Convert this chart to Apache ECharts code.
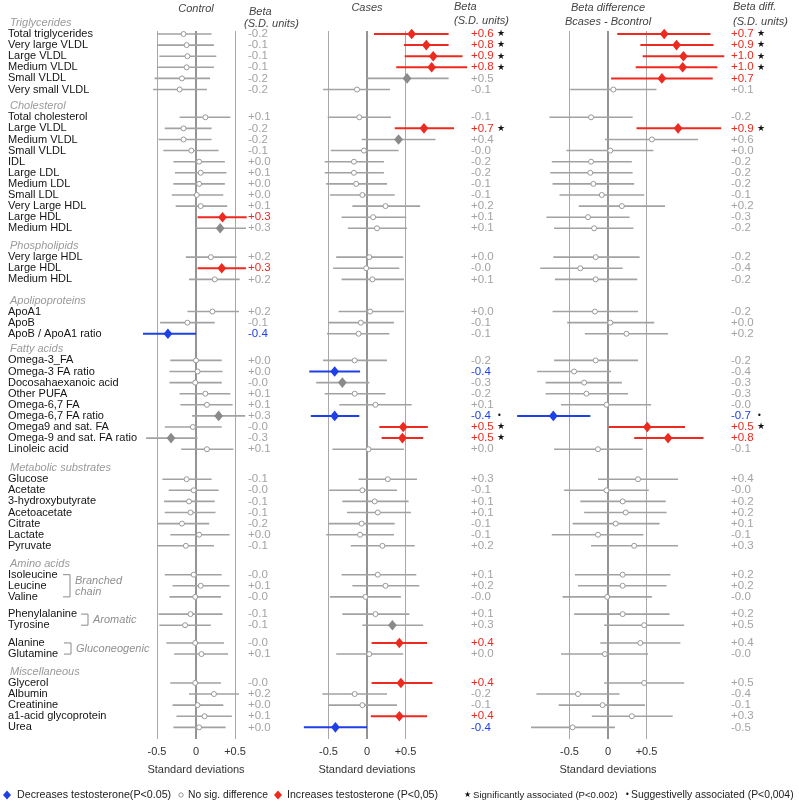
<!DOCTYPE html>
<html><head><meta charset="utf-8">
<script src="https://cdn.jsdelivr.net/npm/echarts@6/dist/echarts.min.js"></script>
<style>html,body{margin:0;padding:0;background:#fff}#c{width:799px;height:804px}</style>
</head><body><div id="c"></div>
<script>
// ---------------- DATA ----------------
const groupNames = ['Triglycerides','Cholesterol','Phospholipids','Apolipoproteins','Fatty acids','Metabolic substrates','Amino acids','Miscellaneous'];
const groupSizes = [6, 11, 3, 3, 9, 7, 7, 5];
const rowLabels = [
  'Total triglycerides','Very large VLDL','Large VLDL','Medium VLDL','Small VLDL','Very small VLDL',
  'Total cholesterol','Large VLDL','Medium VLDL','Small VLDL','IDL','Large LDL','Medium LDL','Small LDL','Very Large HDL','Large HDL','Medium HDL',
  'Very large HDL','Large HDL','Medium HDL',
  'ApoA1','ApoB','ApoB / ApoA1 ratio',
  'Omega-3_FA','Omega-3 FA ratio','Docosahaexanoic acid','Other PUFA','Omega-6,7 FA','Omega-6,7 FA ratio','Omega9 and sat. FA','Omega-9 and sat. FA ratio','Linoleic acid',
  'Glucose','Acetate','3-hydroxybutyrate','Acetoacetate','Citrate','Lactate','Pyruvate',
  'Isoleucine','Leucine','Valine','Phenylalanine','Tyrosine','Alanine','Glutamine',
  'Glycerol','Albumin','Creatinine','a1-acid glycoprotein','Urea'
];
const subgroups = [
  {name: ['Branched', 'chain'], first: 39, last: 41},
  {name: ['Aromatic'], first: 42, last: 43},
  {name: ['Gluconeogenic'], first: 44, last: 45}
];
const xTickLabels = {'-0.5': '-0.5', '0': '0', '0.5': '+0.5'};

// Control: beta, lower CI, upper CI, status (n=no sig, g=grey filled, r=increase, b=decrease)
const controlBeta = [-0.16,-0.12,-0.11,-0.12,-0.18,-0.21,
  0.12,-0.16,-0.16,-0.06,0.04,0.06,0.04,0.01,0.06,0.34,0.31,
  0.19,0.33,0.24,
  0.21,-0.11,-0.36,
  0.00,0.02,-0.01,0.12,0.14,0.29,-0.04,-0.32,0.14,
  -0.12,-0.03,-0.09,-0.07,-0.18,0.04,-0.13,
  -0.03,0.06,-0.01,-0.07,-0.14,-0.01,0.07,
  -0.01,0.23,0.02,0.11,0.04];
const controlLo = [-0.50,-0.50,-0.47,-0.50,-0.53,-0.55,
  -0.21,-0.40,-0.48,-0.42,-0.29,-0.27,-0.29,-0.31,-0.26,0.02,-0.01,
  -0.13,0.02,-0.09,
  -0.11,-0.46,-0.68,
  -0.33,-0.34,-0.34,-0.21,-0.20,-0.05,-0.40,-0.64,-0.19,
  -0.43,-0.35,-0.41,-0.40,-0.50,-0.33,-0.50,
  -0.40,-0.30,-0.34,-0.48,-0.47,-0.38,-0.28,
  -0.33,-0.09,-0.30,-0.25,-0.29];
const controlHi = [0.20,0.23,0.26,0.23,0.18,0.14,
  0.44,0.20,0.20,0.29,0.37,0.39,0.37,0.35,0.40,0.65,0.64,
  0.52,0.64,0.56,
  0.55,0.24,0.00,
  0.33,0.34,0.33,0.44,0.47,0.63,0.33,0.02,0.48,
  0.20,0.29,0.24,0.25,0.17,0.43,0.23,
  0.33,0.43,0.32,0.34,0.19,0.36,0.41,
  0.32,0.55,0.35,0.46,0.38];
const controlStatus = ['n','n','n','n','n','n',
  'n','n','n','n','n','n','n','n','n','r','g',
  'n','r','n',
  'n','n','b',
  'n','n','n','n','n','g','n','g','n',
  'n','n','n','n','n','n','n',
  'n','n','n','n','n','n','n',
  'n','n','n','n','n'];
const controlMark = new Array(51).fill('');

const casesBeta = [0.58,0.77,0.86,0.84,0.52,-0.13,
  -0.10,0.74,0.41,-0.04,-0.17,-0.17,-0.14,-0.06,0.24,0.08,0.13,
  0.03,-0.01,0.07,
  0.04,-0.08,-0.11,
  -0.16,-0.42,-0.32,-0.16,0.11,-0.42,0.47,0.46,0.02,
  0.27,-0.06,0.10,0.14,-0.07,-0.09,0.20,
  0.14,0.24,-0.02,0.11,0.33,0.42,0.03,
  0.44,-0.16,-0.06,0.42,-0.41];
const casesLo = [0.09,0.48,0.49,0.38,-0.01,-0.57,
  -0.51,0.36,-0.07,-0.47,-0.55,-0.55,-0.53,-0.48,-0.19,-0.33,-0.25,
  -0.40,-0.44,-0.33,
  -0.37,-0.50,-0.52,
  -0.57,-0.75,-0.66,-0.55,-0.36,-0.73,0.16,0.19,-0.45,
  -0.11,-0.49,-0.32,-0.26,-0.50,-0.53,-0.21,
  -0.33,-0.19,-0.48,-0.32,-0.06,0.06,-0.40,
  0.06,-0.58,-0.50,0.05,-0.82];
const casesHi = [1.06,1.06,1.24,1.30,1.06,0.30,
  0.31,1.13,0.89,0.41,0.22,0.22,0.26,0.36,0.69,0.51,0.52,
  0.47,0.42,0.48,
  0.48,0.35,0.29,
  0.26,-0.09,0.03,0.24,0.58,-0.10,0.79,0.73,0.48,
  0.65,0.39,0.54,0.57,0.36,0.35,0.62,
  0.64,0.68,0.44,0.55,0.73,0.78,0.47,
  0.85,0.26,0.39,0.78,0.00];
const casesStatus = ['r','r','r','r','g','n',
  'n','r','g','n','n','n','n','n','n','n','n',
  'n','n','n',
  'n','n','n',
  'n','b','g','n','n','b','r','r','n',
  'n','n','n','n','n','n','n',
  'n','n','n','n','g','r','n',
  'r','n','n','r','b'];
const casesMark = ['*','*','*','*','','',
  '','*','','','','','','','','','',
  '','','',
  '','','',
  '','','','','','.','*','*','',
  '','','','','','','',
  '','','','','','','',
  '','','','',''];

const diffBeta = [0.73,0.89,0.98,0.97,0.70,0.07,
  -0.22,0.91,0.57,0.03,-0.22,-0.23,-0.19,-0.08,0.18,-0.26,-0.18,
  -0.16,-0.36,-0.16,
  -0.17,0.03,0.24,
  -0.16,-0.44,-0.31,-0.28,-0.02,-0.71,0.51,0.78,-0.13,
  0.39,-0.02,0.19,0.23,0.10,-0.13,0.34,
  0.19,0.19,-0.01,0.19,0.47,0.42,-0.04,
  0.47,-0.39,-0.07,0.31,-0.46];
const diffLo = [0.12,0.42,0.45,0.36,0.04,-0.49,
  -0.76,0.37,-0.04,-0.54,-0.73,-0.75,-0.72,-0.63,-0.38,-0.80,-0.70,
  -0.71,-0.88,-0.69,
  -0.72,-0.53,-0.30,
  -0.70,-0.92,-0.81,-0.81,-0.61,-1.18,0.01,0.34,-0.70,
  -0.13,-0.57,-0.36,-0.31,-0.46,-0.73,-0.22,
  -0.43,-0.39,-0.59,-0.44,-0.05,-0.10,-0.61,
  -0.05,-0.93,-0.64,-0.21,-1.00];
const diffHi = [1.33,1.37,1.51,1.42,1.36,0.63,
  0.32,1.47,1.17,0.59,0.31,0.32,0.34,0.47,0.74,0.28,0.33,
  0.41,0.19,0.38,
  0.39,0.60,0.78,
  0.39,0.04,0.18,0.26,0.56,-0.23,1.00,1.24,0.45,
  0.91,0.53,0.75,0.76,0.67,0.46,0.91,
  0.81,0.76,0.57,0.80,0.99,0.94,0.52,
  0.99,0.15,0.48,0.84,0.09];
const diffStatus = ['r','r','r','r','r','n',
  'n','r','n','n','n','n','n','n','n','n','n',
  'n','n','n',
  'n','n','n',
  'n','n','n','n','n','b','r','r','n',
  'n','n','n','n','n','n','n',
  'n','n','n','n','n','n','n',
  'n','n','n','n','n'];
const diffMark = ['*','*','*','*','','',
  '','*','','','','','','','','','',
  '','','',
  '','','',
  '','','','','','.','*','','',
  '','','','','','','',
  '','','','','','','',
  '','','','',''];

// ---------------- LAYOUT (row positions in row units) ----------------
const groupGaps = [0, 2.5, 2.6, 2.9, 2.4, 2.7, 2.6, 2.6];
const subGapBefore = {42: 1.55, 44: 1.6};
const rowY = [], headerY = [];
(function () {
  let y = 0, r = 0;
  groupSizes.forEach((n, g) => {
    for (let i = 0; i < n; i++) {
      if (r > 0) y += (i === 0 ? groupGaps[g] : (subGapBefore[r] || 1));
      if (i === 0) headerY.push(y - 1);
      rowY.push(y);
      r++;
    }
  });
})();

const RED = '#ec2a1f', BLUE = '#1e40e6', GRAY = '#a2a2a2', TXTG = '#a3a3a3';
const FONT = '"Liberation Sans", Arial, Helvetica, sans-serif';
const fmt = v => (v < 0 ? '-' : '+') + Math.abs(v).toFixed(1);

function makeForest(status, marks, textDx, markDx) {
  return function (params, api) {
    const k = params.dataIndex;
    const est = api.value(0), y = api.value(1), lo = api.value(2), hi = api.value(3);
    const a = api.coord([lo, y]), b = api.coord([hi, y]), m = api.coord([est, y]), z = api.coord([0, y]);
    const t = status[k];
    const sig = t === 'r' || t === 'b';
    const lineCol = t === 'r' ? RED : t === 'b' ? BLUE : GRAY;
    const txtCol = t === 'r' ? RED : t === 'b' ? BLUE : TXTG;
    const ch = [{type: 'line', shape: {x1: a[0], y1: a[1], x2: b[0], y2: b[1]}, style: {stroke: lineCol, lineWidth: sig ? 2 : 1.6}}];
    if (t === 'n') {
      ch.push({type: 'circle', shape: {cx: m[0], cy: m[1], r: 2.5}, style: {fill: '#fff', stroke: '#999', lineWidth: 1}});
    } else {
      const fc = t === 'r' ? RED : t === 'b' ? BLUE : '#8a8a8a';
      const w = 4.4, h = 5.3;
      ch.push({type: 'polygon', shape: {points: [[m[0], m[1] - h], [m[0] + w, m[1]], [m[0], m[1] + h], [m[0] - w, m[1]]]}, style: {fill: fc}});
    }
    ch.push({type: 'text', style: {text: fmt(est), x: z[0] + textDx, y: m[1], fill: txtCol, fontSize: 11.5, fontFamily: FONT, verticalAlign: 'middle', align: 'left'}});
    if (marks[k]) {
      ch.push({type: 'text', style: {text: marks[k] === '*' ? '★' : '•', x: z[0] + markDx, y: m[1], fill: '#111', fontSize: marks[k] === '*' ? 9 : 8, fontFamily: '"DejaVu Sans", sans-serif', verticalAlign: 'middle', align: 'left'}});
    }
    return {type: 'group', children: ch};
  };
}

function refLines() {
  return {
    silent: true, symbol: ['none', 'none'], z: 1, animation: false,
    label: {show: false},
    data: [
      {xAxis: -0.5, lineStyle: {color: '#a8a8a8', width: 1, type: 'solid'}},
      {xAxis: 0, lineStyle: {color: '#7a7a7a', width: 1.6, type: 'solid'}},
      {xAxis: 0.5, lineStyle: {color: '#a8a8a8', width: 1, type: 'solid'}}
    ]
  };
}

const grids = [
  {left: 79, top: 31, width: 234, height: 708},
  {left: 251.5, top: 31, width: 231, height: 708},
  {left: 492.5, top: 31, width: 231, height: 708}
];
const xAxes = grids.map((g, i) => ({
  gridIndex: i, type: 'value', min: -1.5, max: 1.5, interval: 0.5,
  axisLine: {show: false}, axisTick: {show: false}, splitLine: {show: false},
  axisLabel: {margin: 7, fontSize: 11, color: '#333', fontFamily: FONT,
    formatter: v => (xTickLabels[String(v)] !== undefined ? xTickLabels[String(v)] : '')},
  name: 'Standard deviations', nameLocation: 'middle', nameGap: 25,
  nameTextStyle: {fontSize: 11, color: '#333', fontFamily: FONT}
}));
const yAxes = grids.map((g, i) => ({gridIndex: i, type: 'value', inverse: true, min: -0.27, max: 63.5, show: false}));

function panelData(beta, lo, hi) { return beta.map((b, i) => [b, rowY[i], lo[i], hi[i]]); }

const option = {
  animation: false,
  backgroundColor: '#fff',
  grid: grids,
  xAxis: xAxes,
  yAxis: yAxes,
  series: [
    {type: 'custom', name: 'rows', xAxisIndex: 0, yAxisIndex: 0, silent: true, z: 3,
      data: rowY.map(y => [0, y]), encode: {x: 0, y: 1},
      renderItem: (params, api) => {
        const p = api.coord([0, api.value(1)]);
        return {type: 'text', style: {text: rowLabels[params.dataIndex], x: 8, y: p[1], fill: '#141414', fontSize: 11, fontFamily: FONT, verticalAlign: 'middle'}};
      }},
    {type: 'custom', name: 'groups', xAxisIndex: 0, yAxisIndex: 0, silent: true, z: 3,
      data: headerY.map(y => [0, y]), encode: {x: 0, y: 1},
      renderItem: (params, api) => {
        const p = api.coord([0, api.value(1)]);
        return {type: 'text', style: {text: groupNames[params.dataIndex], x: 10, y: p[1], fill: '#9a9a9a', fontSize: 11, fontStyle: 'italic', fontFamily: FONT, verticalAlign: 'middle'}};
      }},
    {type: 'custom', name: 'Control', xAxisIndex: 0, yAxisIndex: 0, z: 2, silent: true,
      data: panelData(controlBeta, controlLo, controlHi), encode: {x: 0, y: 1},
      renderItem: makeForest(controlStatus, controlMark, 52, 80), markLine: refLines()},
    {type: 'custom', name: 'Cases', xAxisIndex: 1, yAxisIndex: 1, z: 2, silent: true,
      data: panelData(casesBeta, casesLo, casesHi), encode: {x: 0, y: 1},
      renderItem: makeForest(casesStatus, casesMark, 104, 130), markLine: refLines()},
    {type: 'custom', name: 'Beta difference', xAxisIndex: 2, yAxisIndex: 2, z: 2, silent: true,
      data: panelData(diffBeta, diffLo, diffHi), encode: {x: 0, y: 1},
      renderItem: makeForest(diffStatus, diffMark, 123, 149), markLine: refLines()}
  ]
};

const chart = echarts.init(document.getElementById('c'));
chart.setOption(option);

// ---------------- annotations ----------------
const G = [];
function txt(x, y, text, opt) {
  G.push({type: 'text', x: x, y: y, silent: true, z: 10,
    style: Object.assign({text: text, fontSize: 11, fontFamily: FONT, fill: '#333', verticalAlign: 'middle', align: 'left'}, opt || {})});
}
const zx = i => chart.convertToPixel({gridIndex: i}, [0, 0])[0];
const py = y => chart.convertToPixel({gridIndex: 0}, [0, y])[1];

txt(zx(0), 9, 'Control', {align: 'center', fontStyle: 'italic', fill: '#444'});
txt(249, 12, 'Beta', {fontStyle: 'italic', fill: '#444'});
txt(244, 24, '(S.D. units)', {fontStyle: 'italic', fill: '#444'});
txt(zx(1), 8, 'Cases', {align: 'center', fontStyle: 'italic', fill: '#444'});
txt(454, 7, 'Beta', {fontStyle: 'italic', fill: '#444'});
txt(454, 21, '(S.D. units)', {fontStyle: 'italic', fill: '#444'});
txt(zx(2), 8, 'Beta difference', {align: 'center', fontStyle: 'italic', fill: '#444'});
txt(zx(2), 22, 'Bcases - Bcontrol', {align: 'center', fontStyle: 'italic', fill: '#444'});
txt(733, 7, 'Beta diff.', {fontStyle: 'italic', fill: '#444'});
txt(733, 22, '(S.D. units)', {fontStyle: 'italic', fill: '#444'});

// subgroup brackets
const bracketX = [[63, 70], [81, 88], [64, 71]];
subgroups.forEach((s, i) => {
  const y1 = py(rowY[s.first]), y2 = py(rowY[s.last]);
  const [xa, xb] = bracketX[i];
  G.push({type: 'polyline', silent: true, shape: {points: [[xa, y1], [xb, y1], [xb, y2], [xa, y2]]}, style: {stroke: '#8a8a8a', lineWidth: 1, fill: null}});
  const tx = xb + 5;
  if (s.name.length === 2) {
    txt(tx, (y1 + y2) / 2 - 5, s.name[0], {fontStyle: 'italic', fill: '#8f8f8f'});
    txt(tx, (y1 + y2) / 2 + 6, s.name[1], {fontStyle: 'italic', fill: '#8f8f8f'});
  } else {
    txt(tx, (y1 + y2) / 2, s.name[0], {fontStyle: 'italic', fill: '#8f8f8f'});
  }
});

// legend
const LY = 795;
function diamond(cx, cy, col) {
  G.push({type: 'polygon', silent: true, shape: {points: [[cx, cy - 4.5], [cx + 4, cy], [cx, cy + 4.5], [cx - 4, cy]]}, style: {fill: col}});
}
diamond(7, LY, BLUE);
txt(17, LY, 'Decreases testosterone(P<0.05)', {fill: '#222', fontSize: 10.7});
G.push({type: 'circle', silent: true, shape: {cx: 181, cy: LY, r: 2.2}, style: {fill: '#fff', stroke: '#999', lineWidth: 1}});
txt(188, LY, 'No sig. difference', {fill: '#222', fontSize: 10.3});
diamond(278, LY, RED);
txt(287, LY, 'Increases testosterone (P<0,05)', {fill: '#222', fontSize: 10.6});
txt(464, LY, '★', {fill: '#111', fontSize: 8, fontFamily: '"DejaVu Sans", sans-serif'});
txt(473, LY, 'Significantly associated (P<0.002)', {fill: '#222', fontSize: 9.6});
txt(625, LY, '•', {fill: '#111', fontSize: 8, fontFamily: '"DejaVu Sans", sans-serif'});
txt(631, LY, 'Suggestivelly associated (P<0,004)', {fill: '#222', fontSize: 10.4});

chart.setOption({graphic: G});
</script>
</body></html>
